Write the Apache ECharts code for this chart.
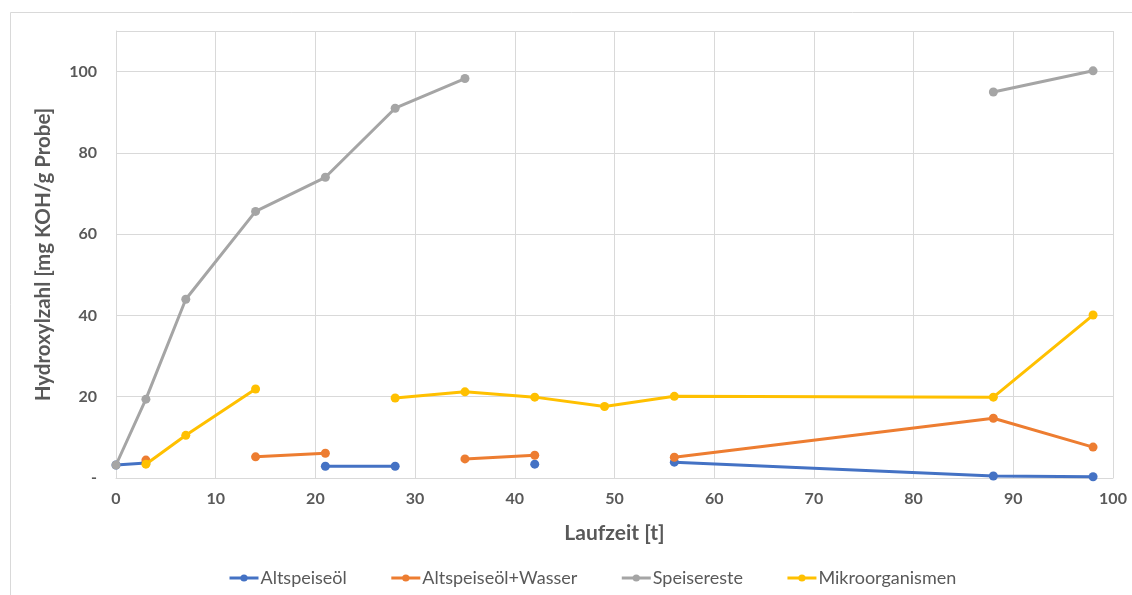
<!DOCTYPE html>
<html>
<head>
<meta charset="utf-8">
<script src="https://cdn.jsdelivr.net/npm/echarts@6/dist/echarts.min.js"></script>
<style>
  html, body { margin: 0; padding: 0; background: #fff; }
  #chart { width: 1132px; height: 595px; }
</style>
</head>
<body>
<div id="chart"></div>
<script>
// Laufzeit in Tagen
const days = [0, 3, 7, 14, 21, 28, 35, 42, 49, 56, 88, 98];

// Hydroxylzahl je Ansatz (null = kein Messwert)
const altspeiseoel       = [3.2, 3.7, null, null, 2.9, 2.9, null, 3.4, null, 3.9, 0.5, 0.3];
const altspeiseoelWasser = [null, 4.4, null, 5.2, 6.1, null, 4.7, 5.6, null, 5.1, 14.7, 7.6];
const speisereste        = [3.2, 19.4, 44.0, 65.6, 74.0, 91.0, 98.3, null, null, null, 95.0, 100.2];
const mikroorganismen    = [null, 3.4, 10.5, 21.9, null, 19.7, 21.2, 19.9, 17.6, 20.1, 19.9, 40.1];

const seriesNames  = ['Altspeiseöl', 'Altspeiseöl+Wasser', 'Speisereste', 'Mikroorganismen'];
const seriesValues = [altspeiseoel, altspeiseoelWasser, speisereste, mikroorganismen];
const seriesColors = ['#4472C4', '#ED7D31', '#A5A5A5', '#FFC000'];

const FONT = 'Lato, "Open Sans", sans-serif';
const TEXT = '#595959';

const chart = echarts.init(document.getElementById('chart'));

const series = seriesNames.map((name, i) => ({
  name,
  type: 'line',
  data: days.map((d, k) => [d, seriesValues[i][k] == null ? '-' : seriesValues[i][k]]),
  connectNulls: false,
  symbol: 'circle',
  symbolSize: 9,
  lineStyle: { width: 3, color: seriesColors[i] },
  itemStyle: { color: seriesColors[i] },
  emphasis: { disabled: true },
  z: 2 + i
}));

chart.setOption({
  animation: false,
  backgroundColor: '#fff',
  color: seriesColors,
  graphic: [{
    type: 'rect',
    shape: { x: 10.5, y: 12.5, width: 1200, height: 700 },
    style: { fill: 'none', stroke: '#d9d9d9', lineWidth: 1 },
    silent: true,
    z: -1
  }],
  grid: { left: 116, right: 19, top: 31, bottom: 117 },
  xAxis: {
    type: 'value',
    min: 0, max: 100, interval: 10,
    name: 'Laufzeit [t]',
    nameLocation: 'middle',
    nameGap: 45,
    nameTextStyle: { fontFamily: FONT, fontSize: 21, fontWeight: 'bold', color: TEXT },
    axisLine: { show: true, lineStyle: { color: '#d9d9d9', width: 1 } },
    axisTick: { show: false },
    axisLabel: { fontFamily: FONT, fontSize: 16, fontWeight: 'bold', color: TEXT, margin: 13 },
    splitLine: { show: true, lineStyle: { color: '#d9d9d9', width: 1 } }
  },
  yAxis: {
    type: 'value',
    min: 0, max: 110, interval: 20,
    name: 'Hydroxylzahl [mg KOH/g Probe]',
    nameLocation: 'middle',
    nameGap: 62,
    nameRotate: 90,
    nameTextStyle: { fontFamily: FONT, fontSize: 20.5, fontWeight: 'bold', color: TEXT },
    axisLine: { show: true, lineStyle: { color: '#d9d9d9', width: 1 } },
    axisTick: { show: false },
    axisLabel: {
      fontFamily: FONT, fontSize: 16, fontWeight: 'bold', color: TEXT, margin: 19,
      showMaxLabel: false,
      formatter: v => (v === 0 ? '-' : String(v))
    },
    splitLine: { show: true, lineStyle: { color: '#d9d9d9', width: 1 } }
  },
  legend: {
    bottom: 8,
    left: 228,
    padding: 0,
    itemWidth: 29,
    itemHeight: 9,
    itemGap: 43,
    lineStyle: { width: 3 },
    textStyle: { fontFamily: FONT, fontSize: 18, color: TEXT, padding: [0, 0, 0, -3] },
    data: seriesNames
  },
  series
});
</script>
</body>
</html>
